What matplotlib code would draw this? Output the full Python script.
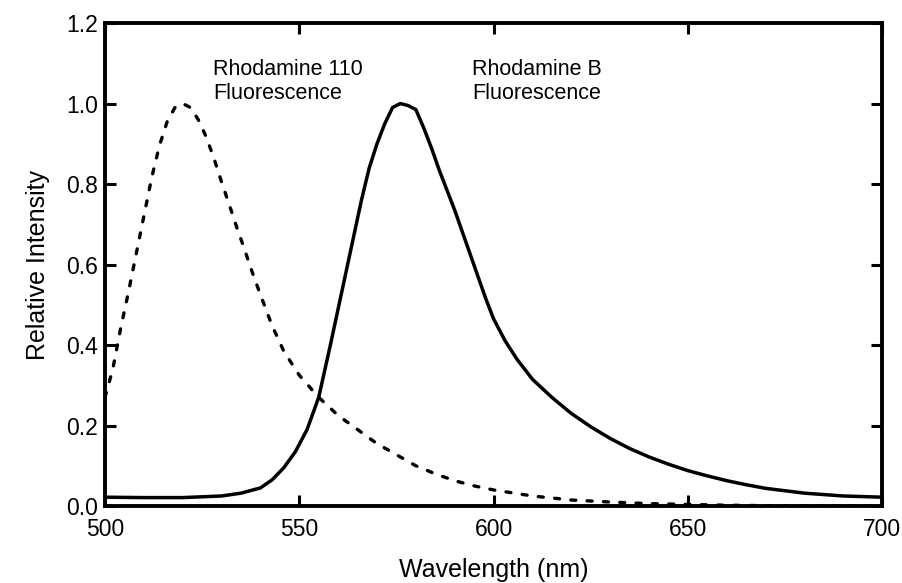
import matplotlib
matplotlib.use("Agg")
import matplotlib.pyplot as plt

plt.rcParams['font.family'] = ['Liberation Sans', 'DejaVu Sans']

# Rhodamine B fluorescence (solid)
wl_b = [500, 510, 520, 530, 535, 540, 543, 546, 549, 552, 555, 558, 560, 562, 564,
        566, 568, 570, 572, 574, 576, 578, 580, 582, 584, 586, 588, 590, 592, 594,
        596, 598, 600, 603, 606, 610, 615, 620, 625, 630, 635, 640, 645, 650, 655,
        660, 665, 670, 680, 690, 700]
int_b = [0.022, 0.021, 0.021, 0.025, 0.032, 0.045, 0.065, 0.095, 0.135, 0.19, 0.27,
         0.40, 0.49, 0.58, 0.67, 0.76, 0.84, 0.90, 0.95, 0.99, 1.0, 0.995, 0.985,
         0.94, 0.89, 0.835, 0.785, 0.735, 0.68, 0.625, 0.57, 0.515, 0.465, 0.41, 0.365,
         0.315, 0.27, 0.23, 0.197, 0.168, 0.143, 0.122, 0.104, 0.088, 0.075, 0.063,
         0.053, 0.044, 0.032, 0.025, 0.022]

# Rhodamine 110 fluorescence (dashed)
wl_110 = [500, 502, 504, 506, 508, 510, 512, 514, 516, 518, 520, 522, 524, 526, 528,
          530, 532, 534, 536, 538, 540, 543, 546, 550, 555, 560, 565, 570, 576, 580,
          585, 590, 595, 600, 610, 620, 630, 640, 650, 660, 670, 680, 690, 700]
int_110 = [0.27, 0.34, 0.44, 0.53, 0.625, 0.72, 0.815, 0.895, 0.955, 0.99, 1.0, 0.99,
           0.96, 0.918, 0.865, 0.805, 0.748, 0.69, 0.635, 0.578, 0.525, 0.448, 0.385,
           0.325, 0.27, 0.225, 0.19, 0.155, 0.122, 0.10, 0.08, 0.063, 0.05, 0.04,
           0.025, 0.015, 0.01, 0.006, 0.004, 0.002, 0.001, 0.0, 0.0, 0.0]

x_ticks = [500, 550, 600, 650, 700]
y_ticks = [0.0, 0.2, 0.4, 0.6, 0.8, 1.0, 1.2]

fig = plt.figure(figsize=(9.02, 5.83), dpi=100)
ax = fig.add_axes([0.1164, 0.132, 0.8616, 0.8285])

ax.plot(wl_110, int_110, color='black', lw=2.4, linestyle=(0, (1.5, 3.4)),
        dash_capstyle='round')
ax.plot(wl_b, int_b, color='black', lw=2.5, solid_joinstyle='round')

ax.set_xlim(500, 700)
ax.set_ylim(0, 1.2)
ax.set_xticks(x_ticks)
ax.set_xticklabels([str(v) for v in x_ticks])
ax.set_yticks(y_ticks)
ax.set_yticklabels([f"{v:.1f}" for v in y_ticks])

ax.tick_params(direction='in', length=8, width=2.2, top=True, right=True,
               labelsize=16.5)
ax.tick_params(axis='y', pad=5)
ax.tick_params(axis='x', pad=8.5)
for s in ax.spines.values():
    s.set_linewidth(2.8)

ax.set_xlabel('Wavelength (nm)', fontsize=18, labelpad=12)
ax.set_ylabel('Relative Intensity', fontsize=18, labelpad=12)

ax.text(0.139, 0.925, 'Rhodamine 110\nFluorescence', transform=ax.transAxes,
        fontsize=15.5, va='top', ha='left', linespacing=1.15)
ax.text(0.472, 0.925, 'Rhodamine B\nFluorescence', transform=ax.transAxes,
        fontsize=15.5, va='top', ha='left', linespacing=1.15)

fig.savefig('out.png', dpi=100)
